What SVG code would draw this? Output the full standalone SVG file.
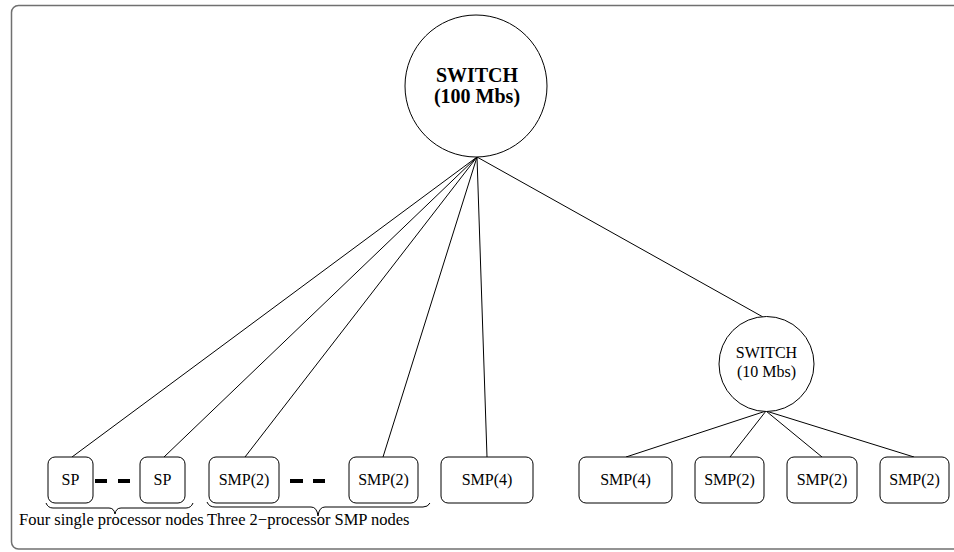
<svg xmlns="http://www.w3.org/2000/svg" width="954" height="552" viewBox="0 0 954 552">
<style>
.box{fill:#fff;stroke:#000;stroke-width:1}
.sw{fill:#fff;stroke:#000;stroke-width:1}
.lbl{font-family:Liberation Serif,Times New Roman,DejaVu Serif,serif;font-size:16px;fill:#000;text-anchor:middle}
.big{font-family:Liberation Serif,Times New Roman,DejaVu Serif,serif;font-size:20px;font-weight:bold;fill:#000;text-anchor:middle}
.cap{font-family:Liberation Serif,Times New Roman,DejaVu Serif,serif;font-size:16.5px;fill:#000}
.ln{stroke:#000;stroke-width:1;fill:none}
.dash{stroke:#000;stroke-width:4}
.brace{stroke:#000;stroke-width:1;fill:none}
</style>
<rect x="11.5" y="5.5" width="960" height="543.5" rx="7" fill="none" stroke="#707070" stroke-width="1.5"/>
<g id="connectors">
<line class="ln" x1="477" y1="157" x2="72" y2="457"/>
<line class="ln" x1="477" y1="157" x2="164" y2="457"/>
<line class="ln" x1="477" y1="157" x2="245" y2="457"/>
<line class="ln" x1="477" y1="157" x2="383" y2="457"/>
<line class="ln" x1="477" y1="157" x2="487" y2="457"/>
<line class="ln" x1="477" y1="157" x2="763" y2="317"/>
<line class="ln" x1="766" y1="411" x2="626" y2="457"/>
<line class="ln" x1="766" y1="411" x2="730" y2="457"/>
<line class="ln" x1="766" y1="411" x2="822" y2="457"/>
<line class="ln" x1="766" y1="411" x2="914" y2="457"/>
</g>
<g id="switch100">
<circle class="sw" cx="476" cy="86" r="71"/>
<text class="big" x="477" y="82" font-family="Liberation Serif, serif">SWITCH</text>
<text class="big" x="477" y="103" font-family="Liberation Serif, serif">(100 Mbs)</text>
</g>
<g id="switch10">
<circle class="sw" cx="766.5" cy="364" r="47.5"/>
<text class="lbl" x="766.5" y="358">SWITCH</text>
<text class="lbl" x="766.5" y="377">(10 Mbs)</text>
</g>
<g id="sp1"><rect class="box" x="48" y="457" width="45" height="46" rx="7"/><text class="lbl" x="70.5" y="485">SP</text></g>
<g id="sp2"><rect class="box" x="140" y="457" width="45" height="46" rx="7"/><text class="lbl" x="162.5" y="485">SP</text></g>
<g id="smp2a"><rect class="box" x="209" y="457" width="70" height="46" rx="7"/><text class="lbl" x="244" y="485">SMP(2)</text></g>
<g id="smp2b"><rect class="box" x="349" y="457" width="69" height="46" rx="7"/><text class="lbl" x="383.5" y="485">SMP(2)</text></g>
<g id="smp4a"><rect class="box" x="441" y="457" width="92" height="46" rx="7"/><text class="lbl" x="487" y="485">SMP(4)</text></g>
<g id="smp4b"><rect class="box" x="579" y="457" width="93" height="46" rx="7"/><text class="lbl" x="625.5" y="485">SMP(4)</text></g>
<g id="smp2c"><rect class="box" x="695" y="457" width="69" height="46" rx="7"/><text class="lbl" x="729.5" y="485">SMP(2)</text></g>
<g id="smp2d"><rect class="box" x="787" y="457" width="70" height="46" rx="7"/><text class="lbl" x="822" y="485">SMP(2)</text></g>
<g id="smp2e"><rect class="box" x="880" y="457" width="69" height="46" rx="7"/><text class="lbl" x="914.5" y="485">SMP(2)</text></g>
<g id="ellipsis1"><line class="dash" x1="95" y1="481" x2="107" y2="481"/><line class="dash" x1="118" y1="481" x2="130" y2="481"/></g>
<g id="ellipsis2"><line class="dash" x1="290" y1="481" x2="303" y2="481"/><line class="dash" x1="313" y1="481" x2="325" y2="481"/></g>
<g id="group-sp">
<path class="brace" d="M46,503 Q48,508 53,508 L109,508 Q114,508 115,514 Q116,508 121,508 L186,508 Q191,508 193,503"/>
<text class="cap" x="19" y="525">Four single processor nodes</text>
</g>
<g id="group-smp2">
<path class="brace" d="M207,502 Q209,507 215,507 L311,507 Q317,507 318,516 Q319,507 325,507 L423,507 Q428,507 430,503"/>
<text class="cap" x="207" y="525">Three 2−processor SMP nodes</text>
</g>
</svg>
